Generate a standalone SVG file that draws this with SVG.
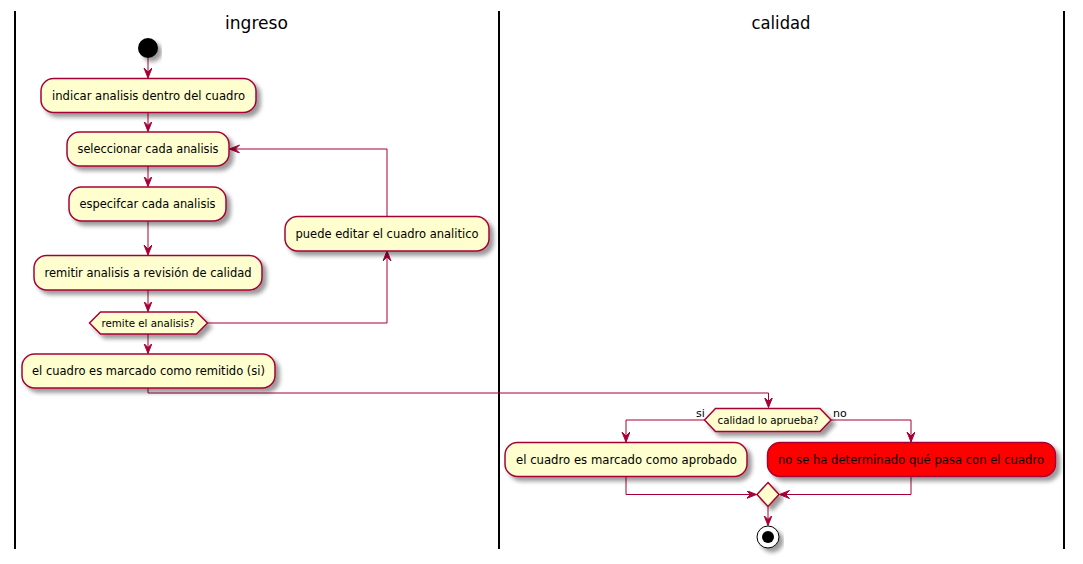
<svg xmlns="http://www.w3.org/2000/svg" width="1083" height="564" viewBox="0 0 1083 564">
<defs>
<filter id="sh" x="-10%" y="-20%" width="130%" height="160%">
<feGaussianBlur in="SourceAlpha" stdDeviation="2" result="b"/>
<feColorMatrix in="b" type="matrix" values="0 0 0 0 0 0 0 0 0 0 0 0 0 0 0 0 0 0 0.4 0" result="c"/>
<feOffset in="c" dx="4" dy="4" result="o"/>
<feMerge><feMergeNode in="o"/><feMergeNode in="SourceGraphic"/></feMerge>
</filter>
<marker id="ah" markerUnits="userSpaceOnUse" markerWidth="11" markerHeight="9" refX="10" refY="4" orient="auto" viewBox="0 0 11 9">
<path d="M0,0 L10,4 L0,8 L4,4 Z" fill="#A80036" stroke="#A80036" stroke-width="1"/>
</marker>
</defs>
<style>
.lane{stroke:#000;stroke-width:2;fill:none}
.title{font-family:"DejaVu Sans","Liberation Sans",sans-serif;font-size:18px;fill:#000;text-anchor:middle}
.box{fill:#FEFECE;stroke:#A80036;stroke-width:1.5;filter:url(#sh)}
.red{fill:#FF0000;stroke:#A80036;stroke-width:1.5;filter:url(#sh)}
.t{font-family:"DejaVu Sans","Liberation Sans",sans-serif;font-size:12px;fill:#000;text-anchor:middle}
.ts{font-family:"DejaVu Sans","Liberation Sans",sans-serif;font-size:11px;fill:#000;text-anchor:middle}
.lbl{font-family:"DejaVu Sans","Liberation Sans",sans-serif;font-size:11px;fill:#000}
.c{fill:none;stroke:#A80036;stroke-width:1;marker-end:url(#ah)}
</style>
<rect width="1083" height="564" fill="#fff"/>
<g id="lanes">
<line class="lane" x1="15" y1="11" x2="15" y2="549"/>
<line class="lane" x1="499" y1="11" x2="499" y2="549"/>
<line class="lane" x1="1064" y1="11" x2="1064" y2="549"/>
<text class="title" x="256.5" y="29" textLength="63" lengthAdjust="spacingAndGlyphs">ingreso</text>
<text class="title" x="781" y="29" textLength="59" lengthAdjust="spacingAndGlyphs">calidad</text>
</g>
<g id="connectors">
<path class="c" d="M148,58 L148,78"/>
<path class="c" d="M148,112.5 L148,131.5"/>
<path class="c" d="M148,166 L148,186.5"/>
<path class="c" d="M148,221 L148,255"/>
<path class="c" d="M148,290 L148,311.5"/>
<path class="c" d="M148,334 L148,353.5"/>
<path class="c" d="M207.5,323 L387,323 L387,251"/>
<path class="c" d="M387,216.5 L387,149 L229.5,149"/>
<path class="c" d="M148,388 L148,393 L768.5,393 L768.5,407.5"/>
<path class="c" d="M704.5,420 L626,420 L626,442"/>
<path class="c" d="M831,420 L911,420 L911,442"/>
<path class="c" d="M626,476.5 L626,494.5 L756.5,494.5"/>
<path class="c" d="M911,476.5 L911,494.5 L779.5,494.5"/>
<path class="c" d="M768,506.5 L768,525.5"/>
</g>
<g id="start"><circle cx="148" cy="48" r="10" fill="#000" filter="url(#sh)"/></g>
<g id="n1"><rect class="box" x="41" y="78.5" width="215" height="34" rx="12.5"/><text class="t" x="148.5" y="99.5" textLength="193" lengthAdjust="spacingAndGlyphs">indicar analisis dentro del cuadro</text></g>
<g id="n2"><rect class="box" x="67" y="132" width="162" height="34" rx="12.5"/><text class="t" x="148" y="153" textLength="141" lengthAdjust="spacingAndGlyphs">seleccionar cada analisis</text></g>
<g id="n3"><rect class="box" x="69" y="187" width="157" height="34" rx="12.5"/><text class="t" x="147.5" y="208" textLength="136" lengthAdjust="spacingAndGlyphs">especifcar cada analisis</text></g>
<g id="n4"><rect class="box" x="34" y="255.5" width="228" height="34.5" rx="12.5"/><text class="t" x="148" y="277" textLength="207" lengthAdjust="spacingAndGlyphs">remitir analisis a revisión de calidad</text></g>
<g id="d1"><polygon class="box" points="89.5,323 100.5,312 196.5,312 207.5,323 196.5,334 100.5,334"/><text class="ts" x="148" y="327" textLength="93" lengthAdjust="spacingAndGlyphs">remite el analisis?</text></g>
<g id="n5"><rect class="box" x="285" y="216.5" width="204" height="34.5" rx="12.5"/><text class="t" x="387" y="238" textLength="183" lengthAdjust="spacingAndGlyphs">puede editar el cuadro analitico</text></g>
<g id="n6"><rect class="box" x="22" y="354" width="253" height="34" rx="12.5"/><text class="t" x="148.5" y="375" textLength="233" lengthAdjust="spacingAndGlyphs">el cuadro es marcado como remitido (si)</text></g>
<g id="d2"><polygon class="box" points="704.5,420 715.5,408.5 820,408.5 831,420 820,431.5 715.5,431.5"/><text class="ts" x="768" y="424" textLength="101" lengthAdjust="spacingAndGlyphs">calidad lo aprueba?</text>
<text class="lbl" x="696" y="417">si</text><text class="lbl" x="833" y="417">no</text></g>
<g id="n7"><rect class="box" x="505" y="442.5" width="242" height="34" rx="12.5"/><text class="t" x="626.5" y="463.5" textLength="221" lengthAdjust="spacingAndGlyphs">el cuadro es marcado como aprobado</text></g>
<g id="n8"><rect class="red" x="767.5" y="442.5" width="288" height="34" rx="12.5"/><text class="t" x="911" y="463.5" textLength="266" lengthAdjust="spacingAndGlyphs">no se ha determinado qué pasa con el cuadro</text></g>
<g id="merge"><polygon class="box" points="768,482.5 779,494.5 768,506.5 757,494.5"/></g>
<g id="end"><circle cx="768" cy="537" r="11" fill="#fff" stroke="#000" stroke-width="1" filter="url(#sh)"/><circle cx="768" cy="537" r="6" fill="#000"/></g>
</svg>
